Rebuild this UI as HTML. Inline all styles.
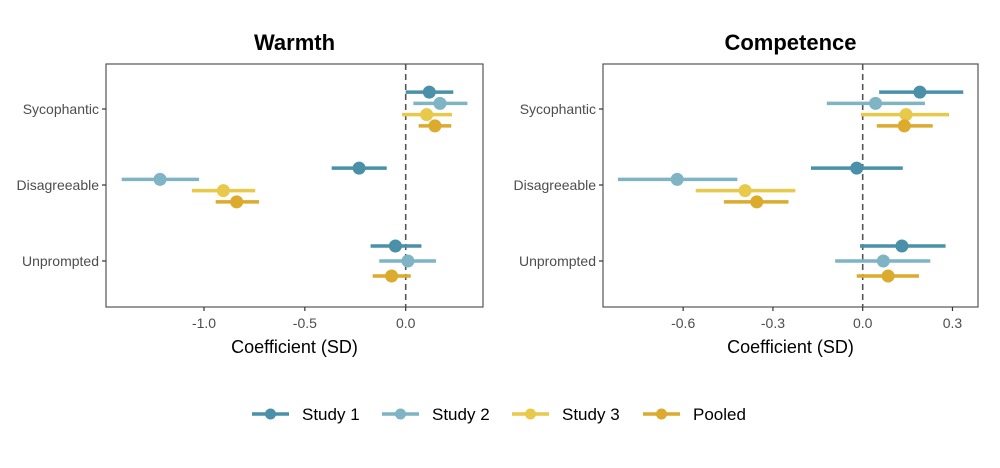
<!DOCTYPE html>
<html><head><meta charset="utf-8"><style>
body{margin:0;background:#fff;}
svg{display:block;font-family:"Liberation Sans",sans-serif;}
</style></head><body>
<svg id="chart" width="1000" height="468"></svg>
<script>
const categories = ["Sycophantic","Disagreeable","Unprompted"];
const seriesNames = ["Study 1","Study 2","Study 3","Pooled"];
const seriesColors = ["#4a90a8","#7fb4c4","#e8c94a","#dcaa2c"];
// warmth: [category][series] = [est, lo, hi] (null = missing)
const warmthEst = [[0.117,0.17,0.104,0.145],[-0.231,-1.218,-0.904,-0.838],[-0.051,0.011,null,-0.07]];
const warmthLo  = [[0.0,0.038,-0.018,0.064],[-0.367,-1.408,-1.06,-0.942],[-0.174,-0.131,null,-0.164]];
const warmthHi  = [[0.236,0.306,0.23,0.226],[-0.094,-1.025,-0.746,-0.727],[0.078,0.15,null,0.025]];
const compEst = [[0.191,0.043,0.145,0.139],[-0.02,-0.62,-0.393,-0.354],[0.131,0.069,null,0.085]];
const compLo  = [[0.055,-0.12,-0.006,0.047],[-0.173,-0.818,-0.558,-0.464],[-0.009,-0.092,null,-0.02]];
const compHi  = [[0.336,0.208,0.289,0.234],[0.134,-0.419,-0.225,-0.248],[0.277,0.226,null,0.188]];
const warmthTicks = [-1.0,-0.5,0.0];
const warmthTickLabels = ["-1.0","-0.5","0.0"];
const compTicks = [-0.6,-0.3,0.0,0.3];
const compTickLabels = ["-0.6","-0.3","0.0","0.3"];

const NS="http://www.w3.org/2000/svg";
const svg=document.getElementById('chart');
function mk(tag,attrs,parent){const e=document.createElementNS(NS,tag);for(const k in attrs)e.setAttribute(k,attrs[k]);(parent||svg).appendChild(e);return e;}
const catY=[109,185,261];

function panel(name,title,box,x0px,pxPerUnit,est,lo,hi,ticks,tickLabels,showY){
  const g=mk('g',{});
  
  
  const xs=v=>x0px+v*pxPerUnit;
  const t=mk('text',{x:(box[0]+box[2])/2,y:50,'text-anchor':'middle','font-size':22,'font-weight':'bold',fill:'#000'},g);
  t.textContent=title;
  
  
  const r=mk('rect',{x:box[0],y:box[1],width:box[2]-box[0],height:box[3]-box[1],fill:'none',stroke:'#555','stroke-width':1.2},g);
  
  
  const z=mk('line',{x1:xs(0),x2:xs(0),y1:box[1],y2:box[3],stroke:'#555','stroke-width':1.6,'stroke-dasharray':'6,4'},g);
  
  
  ticks.forEach((v,i)=>{
    mk('line',{x1:xs(v),x2:xs(v),y1:box[3],y2:box[3]+4,stroke:'#333','stroke-width':1.2},g);
    const tl=mk('text',{x:xs(v),y:box[3]+21,'text-anchor':'middle','font-size':14,fill:'#4d4d4d'},g);
    tl.textContent=tickLabels[i];
    
    
  });
  const xt=mk('text',{x:(box[0]+box[2])/2,y:box[3]+46,'text-anchor':'middle','font-size':18,fill:'#000'},g);
  xt.textContent='Coefficient (SD)';
  
  
  categories.forEach((c,ci)=>{
    mk('line',{x1:box[0]-4,x2:box[0],y1:catY[ci],y2:catY[ci],stroke:'#333','stroke-width':1.2},g);
    const yl=mk('text',{x:box[0]-7,y:catY[ci]+5,'text-anchor':'end','font-size':14,fill:'#4d4d4d'},g);
    yl.textContent=c;
    
    
    const present=[];
    est[ci].forEach((v,si)=>{if(v!==null)present.push(si);});
    const n=present.length, w=45;
    present.forEach((si,k)=>{
      const y=catY[ci]+(k-(n-1)/2)*(w/n);
      const col=seriesColors[si];
      const l=mk('line',{x1:xs(lo[ci][si]),x2:xs(hi[ci][si]),y1:y,y2:y,stroke:col,'stroke-width':3.5},g);
      
      
      const p=mk('circle',{cx:xs(est[ci][si]),cy:y,r:6.5,fill:col},g);
      
      
    });
  });
}
panel('warmth','Warmth',[106,64,483,307],405.7,201.7,warmthEst,warmthLo,warmthHi,warmthTicks,warmthTickLabels);
panel('competence','Competence',[603,64,978,307],862.7,299.2,compEst,compLo,compHi,compTicks,compTickLabels);

const legX=[252,382,512,643];
const lg=mk('g',{});


seriesNames.forEach((s,i)=>{
  const e=mk('g',{},lg);
  
  
  mk('line',{x1:legX[i],x2:legX[i]+37,y1:414,y2:414,stroke:seriesColors[i],'stroke-width':3.5},e);
  mk('circle',{cx:legX[i]+18.5,cy:414,r:5.5,fill:seriesColors[i]},e);
  const t=mk('text',{x:legX[i]+50,y:420,'font-size':17,fill:'#000'},e);
  t.textContent=s;
});
</script>
</body></html>
